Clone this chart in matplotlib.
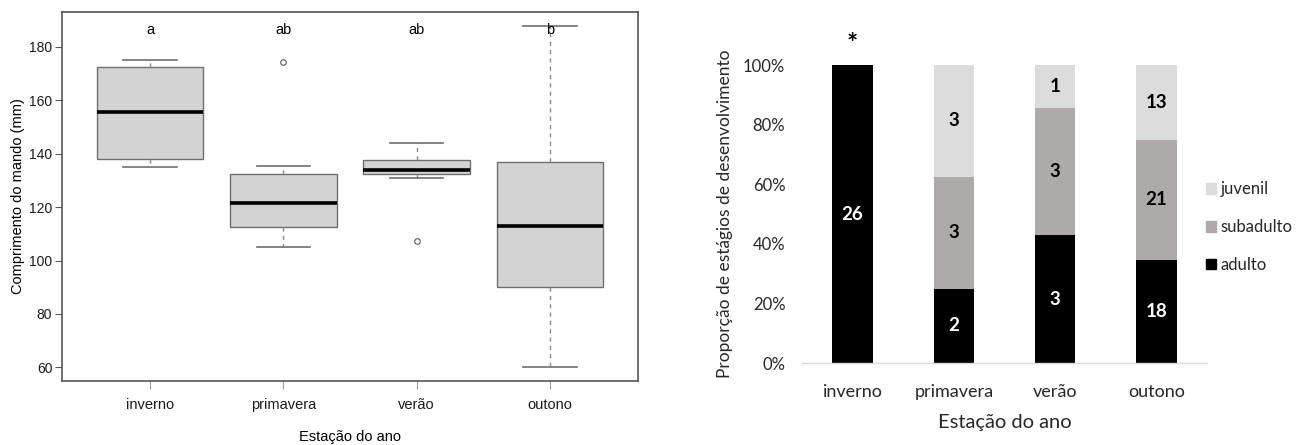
import numpy as np
import matplotlib
matplotlib.use("Agg")
import matplotlib.pyplot as plt
from matplotlib.patches import Patch

# data
seasons = ['inverno', 'primavera', 'verão', 'outono']

# boxplot stats
whislo = [135, 105, 131, 60]
q1 = [138, 112.5, 132.3, 90]
med = [155.5, 121.6, 133.8, 113]
q3 = [172.5, 132.6, 137.6, 137]
whishi = [175, 135.3, 144.2, 188]
fliers = [[], [174.2], [107.2], []]
letters = ['a', 'ab', 'ab', 'b']

# counts per stage (right chart)
stages = ['adulto', 'subadulto', 'juvenil']
adulto = [26, 2, 3, 18]
subadulto = [0, 3, 3, 21]
juvenil = [0, 3, 1, 13]
stage_colors = ['#000000', '#aeaaaa', '#dcdcdc']

txt = '#262626'

fig = plt.figure(figsize=(13.04, 4.45), dpi=100)

# ---- left: boxplot (R style)
ax1 = fig.add_axes([62/1304, 1-381/445, (638-62)/1304, (381-12)/445])
stats = []
for i in range(4):
    stats.append(dict(whislo=whislo[i], q1=q1[i], med=med[i], q3=q3[i],
                      whishi=whishi[i], fliers=fliers[i]))
pos = np.arange(1, 5)
ax1.bxp(stats, positions=pos, widths=0.8, capwidths=0.4, patch_artist=True,
        boxprops=dict(facecolor='#d3d3d3', edgecolor='#6e6e6e', linewidth=1.0),
        medianprops=dict(color='black', linewidth=2.6, solid_capstyle='butt'),
        whiskerprops=dict(color='#8a8a8a', linewidth=1.0, linestyle=(0, (3, 3))),
        capprops=dict(color='#6e6e6e', linewidth=1.2),
        flierprops=dict(marker='o', markersize=4, markerfacecolor='white',
                        markeredgecolor='#555555', markeredgewidth=0.8))
ax1.set_xlim(0.34, 4.66)
ax1.set_ylim(54.9, 193.1)
ax1.set_yticks([60, 80, 100, 120, 140, 160, 180])
ax1.set_xticks(pos)
ax1.set_xticklabels(seasons)
for lab in ax1.get_yticklabels() + ax1.get_xticklabels():
    lab.set_fontfamily('Liberation Sans')
ax1.tick_params(axis='y', labelsize=10, length=5, color='#555555', pad=2, labelcolor='#1a1a1a')
ax1.tick_params(axis='x', labelsize=10.5, length=6, color='#999999', pad=6, labelcolor='#1a1a1a')
for s in ax1.spines.values():
    s.set_color('#555555')
    s.set_linewidth(1.2)
ax1.set_ylabel('Comprimento do mando (mm)', fontsize=10.5, family='Liberation Sans', labelpad=3)
ax1.set_xlabel('Estação do ano', fontsize=10.5, family='Liberation Sans', labelpad=13)
for i in range(4):
    ax1.text(pos[i], 186.5, letters[i], ha='center', va='center', fontsize=10.5,
             family='Liberation Sans')

# ---- right: stacked 100% bars (Excel style)
ax2 = fig.add_axes([802/1304, 1-363/445, (1207-802)/1304, (363-65)/445])
counts = np.array([adulto, subadulto, juvenil], dtype=float)
totals = counts.sum(axis=0)
props = counts / totals
x = np.arange(4)
bottom = np.zeros(4)
for k in range(3):
    ax2.bar(x, props[k], 0.4, bottom=bottom, color=stage_colors[k], label=stages[k])
    for i in range(4):
        if counts[k, i] > 0:
            ax2.text(x[i], bottom[i] + props[k, i]/2, '%d' % counts[k, i],
                     ha='center', va='center', fontsize=13.5, fontweight='bold',
                     family='Lato', color='white' if k == 0 else 'black')
    bottom += props[k]
ax2.text(x[0], 1.07, '*', ha='center', va='center', fontsize=19, fontweight='bold',
         family='Lato', clip_on=False)
ax2.set_xlim(-0.5, 3.5)
ax2.set_ylim(0, 1)
ax2.set_yticks([0, 0.2, 0.4, 0.6, 0.8, 1.0])
ax2.set_yticklabels(['0%', '20%', '40%', '60%', '80%', '100%'])
ax2.set_xticks(x)
ax2.set_xticklabels(seasons)
for lab in ax2.get_yticklabels() + ax2.get_xticklabels():
    lab.set_fontfamily('Lato')
ax2.tick_params(axis='y', labelsize=12, length=0, pad=12, colors=txt)
ax2.tick_params(axis='x', labelsize=13, length=0, pad=15, colors=txt)
for s in ['top', 'right', 'left']:
    ax2.spines[s].set_visible(False)
ax2.spines['bottom'].set_color('#d9d9d9')
ax2.spines['bottom'].set_linewidth(1.0)
ax2.set_ylabel('Proporção de estágios de desenvolvimento', fontsize=12.5, family='Lato',
               color=txt, labelpad=7)
ax2.set_xlabel('Estação do ano', fontsize=14.5, family='Lato', color=txt, labelpad=10)

handles = [Patch(color=stage_colors[k]) for k in [2, 1, 0]]
ax2.legend(handles, [stages[k] for k in [2, 1, 0]], loc='center left',
           bbox_to_anchor=(0.997, 0.456), frameon=False, handlelength=0.6,
           handleheight=0.6, handletextpad=0.3, labelspacing=1.3, borderpad=0,
           borderaxespad=0, prop=dict(family='Lato', size=12), labelcolor=txt)

fig.savefig('out.png', dpi=100)
